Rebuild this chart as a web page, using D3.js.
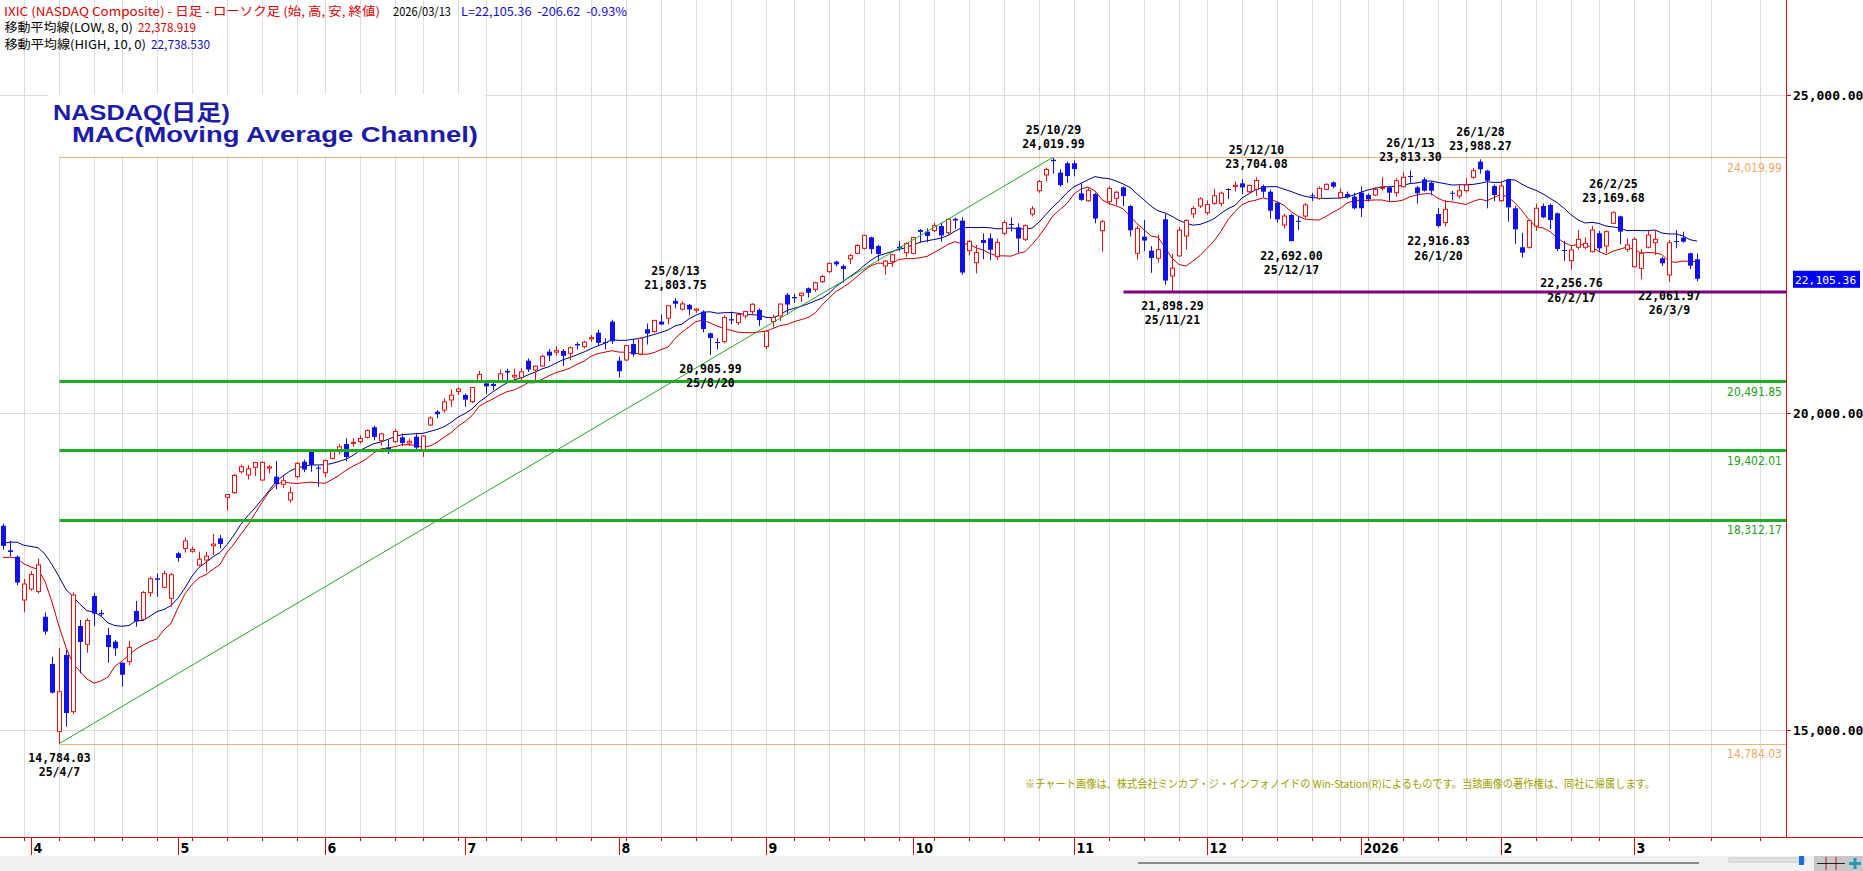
<!DOCTYPE html>
<html>
<head>
<meta charset="utf-8">
<script src="https://cdn.jsdelivr.net/npm/d3@7"></script>
<style>
  body { margin: 0; background: #fff; overflow: hidden; }
  text { white-space: pre; }
</style>
</head>
<body>
<svg id="chart" width="1863" height="871"></svg>
<script>
// trading calendar
const firstDay = '2025-03-26', lastDay = '2026-03-13';
const holidays = ['2025-04-18', '2025-05-26', '2025-06-19', '2025-07-04', '2025-09-01',
  '2025-11-27', '2025-12-25', '2026-01-01', '2026-01-19', '2026-02-16'];

// daily OHLC, one line per month (Mar-25 .. Mar-26)
const opens = [
  18217, 17830, 17729, 17047,
  17220, 17180, 16784, 16040, 14975, 16181, 15289, 16638, 16349, 17110, 16845, 16496, 16391, 16060, 16076, 16874, 16743, 17162, 17389, 17247, 17073,
  17783, 17860, 17815, 17598, 17677, 17902, 18018, 18665, 18737, 19067, 19016, 19137, 18937, 19125, 18990, 18869, 18622, 18989, 19225, 19383, 19131,
  19052, 19278, 19383, 19504, 19520, 19541, 19609, 19767, 19557, 19450, 19541, 19609, 19520, 19619, 19399, 19803, 20013, 20039, 20197, 20330,
  20276, 20171, 20485, 20459, 20450, 20501, 20655, 20560, 20554, 20816, 20669, 20732, 20958, 20950, 20969, 20932, 21079, 21037, 21160, 21258, 21110, 21432,
  20816, 20827, 21079, 20921, 21310, 21274, 21432, 21485, 21758, 21627, 21695, 21610, 21588, 21247, 21110, 21117, 21470, 21415, 21520, 21588, 21614,
  21037, 21432, 21520, 21853, 21820, 21840, 21956, 21940, 22060, 22218, 22376, 22308, 22420, 22507, 22586, 22759, 22623, 22308, 22376, 22610, 22517,
  22507, 22874, 22848, 22864, 22937, 22832, 23050, 23021, 22548, 22359, 22717, 22743, 22454, 22822, 22970, 22916, 22727, 23126, 23493, 23740, 23980, 23777, 23925,
  23925, 23451, 23335, 23441, 22864, 23320, 23373, 23546, 23252, 22507, 22769, 22548, 22428, 23043, 22150, 22466, 22780, 23126, 23252,
  23147, 23294, 23294, 23520, 23560, 23609, 23477, 23515, 23567, 23477, 23304, 22953, 23111, 23020, 23094, 23420, 23373, 23515, 23624, 23388, 23441, 23399,
  23462, 23425, 23425, 23530, 23546, 23462, 23556, 23725, 23546, 23672, 23619, 23126, 22990, 23460, 23410, 23493, 23704, 23950, 23808, 23567,
  23335, 23661, 23216, 22602, 22602, 22937, 23252, 23268, 23137, 22560, 22391, 22602, 22602, 22533, 22822, 22623, 22979, 23089, 22570,
  22296, 22271, 22602, 22674, 22428, 22166, 22700, 22753, 22507, 22413
];
const highs = [
  18250, 17980, 17750, 17377,
  17500, 17700, 16850, 16155, 16290, 16260, 17166, 16732, 16759, 17160, 16890, 16606, 16417, 16060, 16406, 17032, 17189, 17414, 17467, 17510, 17470,
  17808, 18032, 17887, 17808, 17808, 18086, 18070, 18710, 19030, 19180, 19173, 19220, 19230, 19173, 19236, 19000, 18827, 19220, 19260, 19409, 19160,
  19260, 19420, 19500, 19593, 19593, 19640, 19735, 19790, 19680, 19567, 19735, 19670, 19580, 19680, 19640, 19940, 20040, 20223, 20364, 20397,
  20300, 20400, 20655, 20485, 20469, 20680, 20690, 20690, 20700, 20850, 20740, 20910, 21000, 21050, 21000, 21040, 21110, 21130, 21220, 21300, 21169, 21460,
  20880, 21060, 21160, 21180, 21400, 21460, 21540, 21690, 21803.75, 21750, 21710, 21640, 21610, 21260, 21170, 21530, 21590, 21570, 21600, 21720, 21640,
  21290, 21540, 21710, 21880, 21870, 21890, 21970, 22060, 22170, 22360, 22390, 22330, 22500, 22650, 22800, 22770, 22640, 22400, 22500, 22700, 22680,
  22770, 22890, 22900, 22990, 22990, 23060, 23070, 23074, 22720, 22638, 22822, 22822, 22740, 23030, 23070, 22980, 22960, 23250, 23660, 23860, 24019.99, 23830, 23950,
  23970, 23610, 23540, 23460, 23030, 23560, 23490, 23560, 23270, 22940, 23030, 22620, 22800, 23130, 22500, 22920, 23040, 23250, 23390,
  23340, 23520, 23480, 23530, 23640, 23670, 23590, 23704.08, 23590, 23510, 23320, 23130, 23130, 23094, 23300, 23460, 23560, 23610, 23640, 23530, 23480, 23460,
  23560, 23450, 23550, 23704, 23560, 23690, 23790, 23813.30, 23570, 23700, 23640, 23220, 23346, 23490, 23600, 23690, 23850, 23988.27, 23820, 23590,
  23650, 23680, 23250, 22830, 23040, 23290, 23290, 23290, 23150, 22701, 22620, 22870, 22760, 22940, 22860, 22870, 23169.68, 23100, 22740,
  22759, 22570, 22864, 22874, 22454, 22717, 22874, 22848, 22517, 22507
];
const lows = [
  17840, 17735, 17280, 16854,
  17190, 17150, 16500, 15575, 14784.03, 15052, 15250, 15893, 16217, 16638, 16775, 16060, 16165, 15682, 16024, 16627, 16721, 17099, 17099, 17230, 16942,
  17650, 17792, 17792, 17582, 17493, 17756, 17860, 18454, 18720, 19040, 18946, 18998, 18920, 19042, 18790, 18810, 18579, 18960, 19060, 19067, 18832,
  18979, 19260, 19340, 19230, 19461, 19510, 19590, 19560, 19480, 19347, 19520, 19470, 19472, 19420, 19300, 19790, 19910, 19995, 20091, 20276,
  20090, 20150, 20470, 20291, 20354, 20490, 20500, 20500, 20500, 20640, 20470, 20720, 20810, 20900, 20732, 20820, 20990, 21010, 21110, 21050, 20995, 21080,
  20550, 20810, 20880, 20900, 21070, 21260, 21380, 21390, 21640, 21610, 21530, 21570, 21260, 20905.99, 20990, 21090, 21390, 21380, 21480, 21550, 21360,
  21000, 21340, 21440, 21540, 21730, 21740, 21810, 21900, 22040, 22200, 22300, 22045, 22340, 22490, 22570, 22500, 22380, 22166, 22290, 22540, 22450,
  22490, 22680, 22680, 22840, 22690, 22800, 22890, 22170, 22480, 22191, 22413, 22400, 22400, 22790, 22850, 22517, 22700, 23090, 23460, 23640, 23760, 23556, 23615,
  23720, 23330, 23320, 22980, 22533, 23270, 23270, 23250, 22770, 22410, 22540, 22200, 22360, 22010, 21898.29, 22455, 22570, 23060, 23220,
  23110, 23270, 23250, 23360, 23480, 23440, 23440, 23410, 23390, 23050, 22990, 22900, 22692.00, 22874, 23060, 23330, 23350, 23500, 23530, 23370, 23370, 23200,
  23080, 23320, 23410, 23493, 23320, 23400, 23545, 23620, 23290, 23480, 23420, 22916.83, 22930, 23340, 23370, 23460, 23680, 23760, 23216, 23330,
  23320, 23005, 22654, 22440, 22580, 22860, 23060, 22890, 22540, 22391, 22256.76, 22570, 22570, 22520, 22530, 22510, 22970, 22650, 22530,
  22280, 22098, 22586, 22480, 22307, 22061.97, 22586, 22674, 22255, 22065
];
const closes = [
  17899, 17804, 17323, 17299,
  17449, 17601, 16550, 15588, 15603, 15268, 17125, 16387, 16724, 16832, 16823, 16307, 16286, 15870, 16300, 16708, 17166, 17382, 17366, 17461, 17446,
  17710, 17977, 17844, 17690, 17738, 17928, 17929, 18708, 19010, 19146, 19112, 19211, 19215, 19143, 18872, 18925, 18737, 19199, 19101, 19175, 19114,
  19243, 19399, 19460, 19298, 19530, 19591, 19715, 19615, 19662, 19407, 19701, 19521, 19546, 19447, 19631, 19913, 19974, 20168, 20273, 20370,
  20202, 20393, 20601, 20412, 20418, 20611, 20630, 20586, 20640, 20677, 20730, 20885, 20896, 20974, 20892, 21020, 21057, 21108, 21178, 21098, 21100, 21122,
  20650, 21053, 20916, 21169, 21243, 21450, 21385, 21682, 21713, 21710, 21623, 21630, 21315, 21172, 21100, 21496, 21449, 21544, 21590, 21705, 21456,
  21280, 21498, 21708, 21700, 21798, 21879, 21886, 22043, 22141, 22349, 22333, 22261, 22470, 22631, 22789, 22573, 22497, 22384, 22484, 22591, 22660,
  22755, 22845, 22780, 22942, 22788, 23043, 23024, 22204, 22695, 22521, 22670, 22562, 22680, 22991, 22953, 22740, 22942, 23205, 23637, 23827, 23958, 23581, 23725,
  23834, 23349, 23499, 23054, 23004, 23527, 23468, 23406, 22870, 22900, 22708, 22432, 22564, 22078, 22273, 22872, 23025, 23214, 23365,
  23275, 23413, 23454, 23505, 23578, 23545, 23576, 23654, 23477, 23178, 23042, 23094, 22700, 23005, 23268, 23410, 23530, 23593, 23556, 23462, 23388, 23216,
  23216, 23357, 23515, 23546, 23462, 23651, 23704, 23714, 23451, 23493, 23493, 22937, 23200, 23451, 23493, 23583, 23808, 23830, 23651, 23425,
  23567, 23231, 22885, 22517, 23021, 23216, 23074, 23032, 22575, 22548, 22559, 22727, 22664, 22874, 22586, 22848, 23147, 22848, 22638,
  22727, 22507, 22795, 22727, 22349, 22674, 22690, 22690, 22311.98, 22105.36
];
// nine sessions before the first bar, only used to seed the moving averages
const preHigh = [17780, 17770, 17861, 17680, 17900, 17865, 17800, 18200, 18285];
const preLow = [17303, 17508, 17660, 17437, 17560, 17587, 17425, 18020, 18180];

// marked highs / lows
const annIdx = [8, 96, 101, 150, 167, 179, 184, 201, 205, 211, 224, 230, 238];
const annSide = ['low', 'high', 'low', 'high', 'low', 'high', 'low', 'high', 'low', 'high', 'low', 'high', 'low'];

const channelLevels = [20491.85, 19402.01, 18312.17];
const trendFrom = 8, trendTo = 150;     // low of 25/4/7 -> high of 25/10/29
const supportIdx = 167, supportFrom = 160;
const futureWeekIdx = [244, 251];
const priceTicks = [15000, 20000, 25000];
const maText = ['22,378.919', '22,738.530'];

const RED = '#e81010', BLUE = '#1010e8';

const parse = d3.timeParse('%Y-%m-%d'), key = d3.timeFormat('%Y-%m-%d');
const hol = new Set(holidays);
const dates = d3.timeDays(parse(firstDay), d3.timeDay.offset(parse(lastDay), 1))
  .filter(d => d.getDay() !== 0 && d.getDay() !== 6 && !hol.has(key(d)));
const N = closes.length;
if (dates.length !== N) console.error('calendar mismatch', dates.length, N);

const allHigh = preHigh.concat(highs), allLow = preLow.concat(lows), P = preHigh.length;
const maHigh = highs.map((_, i) => d3.mean(allHigh.slice(i + P - 9, i + P + 1)));
const maLow = lows.map((_, i) => d3.mean(allLow.slice(i + P - 7, i + P + 1)));

const svg = d3.select('#chart');
const plotRight = 1786, plotBottom = 837;

const x = d3.scaleLinear().domain([0, 242]).range([3, 1697]);
const y = d3.scaleLinear().domain([15000, 25000]).range([730, 95]);
const cx = i => Math.round(x(i)) + 0.5;
const cy = v => Math.round(y(v)) + 0.5;
const up = i => closes[i] >= opens[i];

// week starts / month starts
const weekIdx = d3.range(1, N).filter(i => +d3.timeMonday.floor(dates[i]) !== +d3.timeMonday.floor(dates[i - 1]));
const monthIdx = d3.range(1, N).filter(i => dates[i].getMonth() !== dates[i - 1].getMonth());

// grid
const grid = svg.append('g').attr('stroke', '#dcdcdc').attr('stroke-width', 1);
grid.selectAll('line.v').data(weekIdx.concat(futureWeekIdx)).join('line')
  .attr('x1', cx).attr('x2', cx).attr('y1', 0).attr('y2', plotBottom);
grid.selectAll('line.h').data(priceTicks).join('line')
  .attr('x1', 0).attr('x2', plotRight).attr('y1', cy).attr('y2', cy);

// title box
svg.append('rect').attr('x', 48).attr('y', 94).attr('width', 437).attr('height', 62).attr('fill', '#fff');
const title = svg.append('g').attr('font-family', 'Liberation Sans, Arial, Noto Sans CJK JP, sans-serif')
  .attr('font-weight', 'bold').attr('font-size', 22).attr('fill', '#1c1ca8');
title.append('text').attr('x', 53).attr('y', 120).attr('textLength', 177).attr('lengthAdjust', 'spacingAndGlyphs').text('NASDAQ(日足)');
title.append('text').attr('x', 72).attr('y', 142).attr('textLength', 406).attr('lengthAdjust', 'spacingAndGlyphs').text('MAC(Moving Average Channel)');

// moving averages
const line = d3.line().x((d, i) => x(i)).y(d => y(d));
svg.append('path').attr('d', line(maHigh)).attr('fill', 'none').attr('stroke', '#000090').attr('stroke-width', 1);
svg.append('path').attr('d', line(maLow)).attr('fill', 'none').attr('stroke', '#cc0000').attr('stroke-width', 1);

// candles
const candle = svg.append('g').selectAll('g').data(d3.range(N)).join('g');
candle.append('line')
  .attr('x1', cx).attr('x2', cx)
  .attr('y1', i => y(highs[i])).attr('y2', i => y(lows[i]))
  .attr('stroke', i => up(i) ? RED : BLUE);
candle.append('rect')
  .attr('x', i => up(i) ? cx(i) - 2 : cx(i) - 2.5)
  .attr('width', i => up(i) ? 4 : 5)
  .attr('y', i => y(Math.max(opens[i], closes[i])))
  .attr('height', i => Math.max(1, Math.abs(y(opens[i]) - y(closes[i]))))
  .attr('fill', i => up(i) ? '#fff' : BLUE)
  .attr('stroke', i => up(i) ? RED : 'none');

// channel levels, range lines, trend & support
const xFrom = cx(trendFrom);
const topVal = d3.max(highs.slice(trendFrom)), botVal = d3.min(lows.slice(trendFrom));
svg.selectAll('line.ch').data(channelLevels).join('line')
  .attr('x1', xFrom).attr('x2', plotRight).attr('y1', cy).attr('y2', cy)
  .attr('stroke', '#22aa22').attr('stroke-width', 3);
svg.selectAll('line.rg').data([topVal, botVal]).join('line')
  .attr('x1', xFrom).attr('x2', plotRight).attr('y1', cy).attr('y2', cy)
  .attr('stroke', '#f2b27a').attr('stroke-width', 1);
svg.append('line')
  .attr('x1', x(trendFrom)).attr('y1', y(lows[trendFrom]))
  .attr('x2', x(trendTo)).attr('y2', y(highs[trendTo]))
  .attr('stroke', '#22aa22').attr('stroke-width', 1);
svg.append('line')
  .attr('x1', cx(supportFrom)).attr('x2', plotRight)
  .attr('y1', y(lows[supportIdx])).attr('y2', y(lows[supportIdx]))
  .attr('stroke', '#800080').attr('stroke-width', 3);

const f2 = d3.format(',.2f');
const levelLabels = channelLevels.map(v => ({v, c: '#22a022'}))
  .concat([{v: topVal, c: '#f0a868'}, {v: botVal, c: '#f0a868'}]);
svg.selectAll('text.lv').data(levelLabels).join('text')
  .attr('x', 1782).attr('y', d => y(d.v) + 14.5)
  .attr('text-anchor', 'end').attr('font-family', 'Liberation Sans Narrow, DejaVu Sans Condensed, sans-serif')
  .attr('font-size', 12).attr('fill', d => d.c).text(d => f2(d.v));

// annotations
const dfmt = d3.timeFormat('%y/%-m/%-d');
const ann = svg.append('g').attr('font-family', 'DejaVu Sans Mono, monospace').attr('font-weight', 'bold')
  .attr('font-size', 11.5).attr('fill', '#000').attr('text-anchor', 'middle');
annIdx.forEach((i, k) => {
  const hi = annSide[k] === 'high';
  const v = hi ? highs[i] : lows[i];
  const vc = hi ? y(v) - 13 : y(v) + 14;
  const dc = hi ? vc - 14 : vc + 14.5;
  ann.append('text').attr('x', cx(i)).attr('y', vc + 4).text(f2(v));
  ann.append('text').attr('x', cx(i)).attr('y', dc + 4).text(dfmt(dates[i]));
});

// axes
svg.append('line').attr('x1', plotRight + 0.5).attr('x2', plotRight + 0.5).attr('y1', 0).attr('y2', plotBottom)
  .attr('stroke', '#d01010');
svg.append('line').attr('x1', 0).attr('x2', 1863).attr('y1', plotBottom + 0.5).attr('y2', plotBottom + 0.5)
  .attr('stroke', '#d01010');
svg.selectAll('line.yt').data(priceTicks).join('line')
  .attr('x1', plotRight).attr('x2', plotRight + 5).attr('y1', cy).attr('y2', cy).attr('stroke', '#d01010');
svg.selectAll('text.yl').data(priceTicks).join('text')
  .attr('x', 1793).attr('y', d => y(d) + 5)
  .attr('font-family', 'DejaVu Sans Mono, monospace').attr('font-weight', 'bold').attr('font-size', 13)
  .attr('fill', '#000').text(d => f2(d));

svg.selectAll('line.wt').data(weekIdx.concat(futureWeekIdx)).join('line')
  .attr('x1', cx).attr('x2', cx).attr('y1', plotBottom).attr('y2', plotBottom + 4).attr('stroke', '#d01010');
svg.selectAll('line.mt').data(monthIdx).join('line')
  .attr('x1', cx).attr('x2', cx).attr('y1', plotBottom).attr('y2', plotBottom + 18).attr('stroke', '#d01010');
svg.selectAll('text.ml').data(monthIdx).join('text')
  .attr('x', i => cx(i) + 2).attr('y', plotBottom + 16)
  .attr('font-family', 'Liberation Sans Narrow, DejaVu Sans Condensed, sans-serif').attr('font-weight', 'bold')
  .attr('font-size', 14).attr('fill', '#000')
  .text(i => dates[i].getMonth() === 0 ? d3.timeFormat('%Y')(dates[i]) : dates[i].getMonth() + 1);

// last price tag
const last = closes[N - 1], prev = closes[N - 2];
svg.append('rect').attr('x', 1793).attr('y', y(last) - 8).attr('width', 67).attr('height', 17).attr('fill', '#0000ff');
svg.append('text').attr('x', 1795).attr('y', y(last) + 5)
  .attr('font-family', 'DejaVu Sans Mono, monospace').attr('font-size', 11.3).attr('fill', '#fff').text(f2(last));

// header lines
const minus = s => s.replace('\u2212', '-');
const chg = last - prev, pct = chg / prev * 100;
const header = [
  {x: 4, y: 15.5, w: 376, c: '#e00000', t: 'IXIC (NASDAQ Composite) - 日足 - ローソク足 (始, 高, 安, 終値)'},
  {x: 393, y: 15.5, w: 58, c: '#000', t: d3.timeFormat('%Y/%m/%d')(dates[N - 1])},
  {x: 461, y: 15.5, w: 166, c: '#1010d0', t: 'L=' + f2(last) + '  ' + minus(d3.format('.2f')(chg)) + '  ' + minus(d3.format('.2f')(pct)) + '%'},
  {x: 4.5, y: 31.5, w: 128.5, c: '#000', t: '移動平均線(LOW, 8, 0)'},
  {x: 138, y: 31.5, w: 58, c: '#e00000', t: maText[0]},
  {x: 4.5, y: 48.5, w: 141.5, c: '#000', t: '移動平均線(HIGH, 10, 0)'},
  {x: 151, y: 48.5, w: 59, c: '#1010d0', t: maText[1]}
];
svg.selectAll('text.hd').data(header).join('text')
  .attr('x', d => d.x).attr('y', d => d.y).attr('fill', d => d.c)
  .attr('font-family', 'Noto Sans CJK JP, sans-serif').attr('font-size', 12)
  .attr('textLength', d => d.w).attr('lengthAdjust', 'spacingAndGlyphs').text(d => d.t);

// credit
svg.append('text').attr('x', 1025).attr('y', 788)
  .attr('font-family', 'Noto Sans CJK JP, sans-serif').attr('font-size', 11).attr('fill', '#a0a000')
  .attr('textLength', 630).attr('lengthAdjust', 'spacingAndGlyphs')
  .text('※チャート画像は、株式会社ミンカブ・ジ・インフォノイドの Win-Station(R)によるものです。当該画像の著作権は、同社に帰属します。');

// bottom strip
svg.append('rect').attr('x', 0).attr('y', 856).attr('width', 1863).attr('height', 15).attr('fill', '#f0f0f0');
svg.append('line').attr('x1', 1138).attr('x2', 1699).attr('y1', 863).attr('y2', 863).attr('stroke', '#8a8a8a').attr('stroke-width', 2);
svg.append('rect').attr('x', 1729).attr('y', 858).attr('width', 76).attr('height', 4).attr('fill', '#e4e4e4').attr('stroke', '#c8c8c8');
svg.append('rect').attr('x', 1799).attr('y', 856).attr('width', 5).attr('height', 9).attr('fill', '#1a6ed8');
svg.append('rect').attr('x', 1814).attr('y', 856).attr('width', 49).attr('height', 15).attr('fill', '#c8c8c8');
svg.append('line').attr('x1', 1826).attr('x2', 1826).attr('y1', 857).attr('y2', 870).attr('stroke', '#c01010');
svg.append('line').attr('x1', 1836).attr('x2', 1836).attr('y1', 857).attr('y2', 870).attr('stroke', '#c01010');
svg.append('line').attr('x1', 1817).attr('x2', 1845).attr('y1', 863.5).attr('y2', 863.5).attr('stroke', '#222');
svg.append('line').attr('x1', 1855).attr('x2', 1855).attr('y1', 858).attr('y2', 869).attr('stroke', '#2a9ab0').attr('stroke-width', 3);
svg.append('line').attr('x1', 1849).attr('x2', 1861).attr('y1', 863.5).attr('y2', 863.5).attr('stroke', '#2a9ab0').attr('stroke-width', 3);
</script>
</body>
</html>
